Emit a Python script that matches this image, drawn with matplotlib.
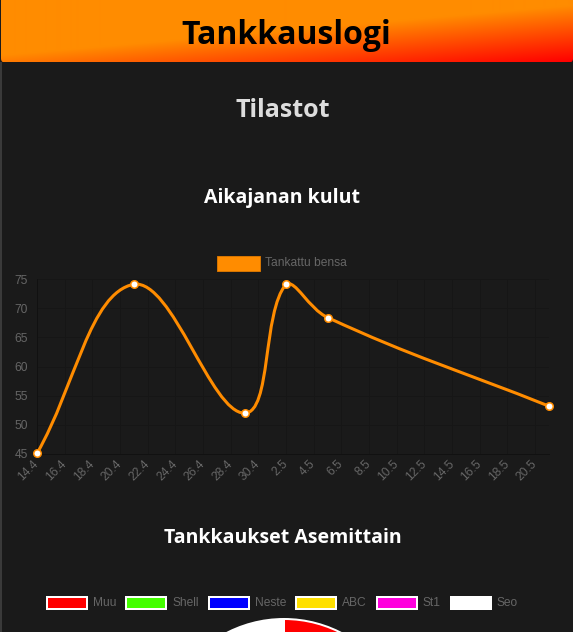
import numpy as np
import pandas as pd
import matplotlib
matplotlib.use("Agg")
import matplotlib.pyplot as plt
import matplotlib.dates as mdates
from matplotlib.patches import Rectangle, FancyBboxPatch, PathPatch
from matplotlib.path import Path

# --- data ---
dates = ["2019-04-14", "2019-04-21", "2019-04-29", "2019-05-02", "2019-05-05", "2019-05-21"]
litres = [45.1, 74.1, 52.0, 74.1, 68.4, 53.2]
line_label = "Tankattu bensa"
y_ticks = [45, 50, 55, 60, 65, 70, 75]

stations = ["Muu", "Shell", "Neste", "ABC", "St1", "Seo"]
station_counts = [2, 1, 1, 1, 0, 1]
station_colors = ["#ff0000", "#44ff00", "#0000ff", "#ffe000", "#ff00dd", "#ffffff"]

page_title = "Tankkauslogi"
section_title = "Tilastot"
chart1_title = "Aikajanan kulut"
chart2_title = "Tankkaukset Asemittain"

# --- styles ---
W, H = 573, 632
BG = "#1a1a1a"
ORANGE = "#ff8c00"
TXT = "#666666"
HEAD_FONT = "Open Sans"
CHART_FONT = "Liberation Sans"
FS = 8.64  # 12 px
CX = 282.5  # centre of the chart canvas

fig = plt.figure(figsize=(W / 100, H / 100), dpi=100, facecolor=BG)

# page layer in pixel coordinates
page = fig.add_axes([0, 0, 1, 1], zorder=0)
page.axis("off")

# header gradient
gx, gy = np.meshgrid(np.arange(W) + 0.5, np.arange(63) + 0.5)
s = 0.087 * gx + 0.996 * gy
t = np.clip((s - 56) / 56, 0, 1)[..., None]
img = np.array([1.0, 0x8c / 255, 0.0]) * (1 - t) + np.array([1.0, 0.0, 0.0]) * t
im = page.imshow(img, extent=(1, W, 62.5, 0), aspect="auto", zorder=1)
clip = FancyBboxPatch((1, -10), W - 1, 72.5, boxstyle="round,pad=0,rounding_size=4",
                      transform=page.transData, fc="none", ec="none")
page.add_patch(clip)
im.set_clip_path(clip)
page.set_xlim(0, W)
page.set_ylim(H, 0)

page.add_patch(Rectangle((0, 62), 1.5, H - 62, color="#3a3a3a", lw=0))

page.text(286, 43.5, page_title, ha="center", va="baseline", fontsize=23,
          fontweight="bold", family=HEAD_FONT, color="black")
page.text(283, 117, section_title, ha="center", va="baseline", fontsize=18,
          fontweight="bold", family=HEAD_FONT, color="#dddddd")
page.text(CX, 203, chart1_title, ha="center", va="baseline", fontsize=14,
          fontweight="bold", family=HEAD_FONT, color="white")
page.text(CX, 543, chart2_title, ha="center", va="baseline", fontsize=14,
          fontweight="bold", family=HEAD_FONT, color="white")

renderer = fig.canvas.get_renderer()


def text_w(label):
    tt = page.text(0, 0, label, fontsize=FS, family=CHART_FONT)
    w = tt.get_window_extent(renderer).width
    tt.remove()
    return w


# legend of the line chart
tw = text_w(line_label)
x_leg = CX - (46 + tw) / 2
page.add_patch(Rectangle((x_leg - 1.5, 255.5), 43, 15, fc=ORANGE, ec="#d87600", lw=0.7))
page.text(x_leg + 46, 263, line_label, va="center", fontsize=FS, family=CHART_FONT, color=TXT)

# legend of the pie chart
widths = [46 + text_w(n) for n in stations]
x_leg = CX - (sum(widths) + 10 * (len(widths) - 1)) / 2
for name, col, w in zip(stations, station_colors, widths):
    page.add_patch(Rectangle((x_leg, 597), 40, 12, fc=col, ec="white", lw=1.44))
    page.text(x_leg + 46, 603.5, name, va="center", fontsize=FS, family=CHART_FONT, color=TXT)
    x_leg += w + 10

# --- line chart ---
x = mdates.date2num(pd.to_datetime(dates))
ax = fig.add_axes([37 / W, (H - 454) / H, (549 - 37) / W, (454 - 279) / H], zorder=2)
ax.set_facecolor("none")
ax.set_xlim(x[0], x[-1])
ax.set_ylim(y_ticks[0], y_ticks[-1])

xt = np.arange(x[0], x[-1], 2)
ax.set_xticks(xt)
ax.set_xticklabels([f"{d.day}.{d.month}" for d in mdates.num2date(xt)])
ax.set_yticks(y_ticks)
ax.tick_params(length=0, labelsize=FS, labelcolor=TXT)
ax.tick_params(axis="y", pad=6.5)
ax.tick_params(axis="x", pad=6)
for lab in ax.get_xticklabels() + ax.get_yticklabels():
    lab.set_family(CHART_FONT)
for lab in ax.get_xticklabels():
    lab.set(rotation=45, ha="right", va="center", rotation_mode="anchor")
ax.grid(color="#161616", lw=0.72)
for side in ["top", "right"]:
    ax.spines[side].set_visible(False)
for side in ["left", "bottom"]:
    ax.spines[side].set_color("#111111")
    ax.spines[side].set_linewidth(0.72)

# chart.js style bezier (tension 0.4) in pixel space
pts = ax.transData.transform(np.column_stack([x, litres]))
box = ax.bbox
ctrl_in, ctrl_out = [], []
for i in range(len(pts)):
    cur = pts[i]
    prv = pts[i - 1] if i > 0 else cur
    nxt = pts[i + 1] if i < len(pts) - 1 else cur
    d01 = np.hypot(*(cur - prv))
    d12 = np.hypot(*(nxt - cur))
    s01 = d01 / (d01 + d12)
    s12 = d12 / (d01 + d12)
    c_in = cur - 0.4 * s01 * (nxt - prv)
    c_out = cur + 0.4 * s12 * (nxt - prv)
    for c in (c_in, c_out):
        c[0] = min(max(c[0], box.x0), box.x1)
        c[1] = min(max(c[1], box.y0), box.y1)
    ctrl_in.append(c_in)
    ctrl_out.append(c_out)

verts = [pts[0]]
codes = [Path.MOVETO]
for i in range(len(pts) - 1):
    verts += [ctrl_out[i], ctrl_in[i + 1], pts[i + 1]]
    codes += [Path.CURVE4] * 3
verts = ax.transData.inverted().transform(np.array(verts))
ax.add_patch(PathPatch(Path(verts, codes), fc="none", ec=ORANGE, lw=2.2,
                       clip_on=False, zorder=3, capstyle="round", joinstyle="round"))
ax.plot(x, litres, ls="none", marker="o", ms=5.4, mfc="white", mec=ORANGE,
        mew=1.1, clip_on=False, zorder=4)

# --- pie chart (only its top shows) ---
r = 125
pie_ax = fig.add_axes([(284 - r) / W, (H - 744 - r) / H, 2 * r / W, 2 * r / H], zorder=1)
pie_ax.pie(station_counts, colors=station_colors, startangle=90, counterclock=False,
           wedgeprops=dict(edgecolor="white", linewidth=1.44))
pie_ax.set_xlim(-1, 1)
pie_ax.set_ylim(-1, 1)
pie_ax.axis("off")

fig.savefig("out.png", dpi=100, facecolor=BG)
